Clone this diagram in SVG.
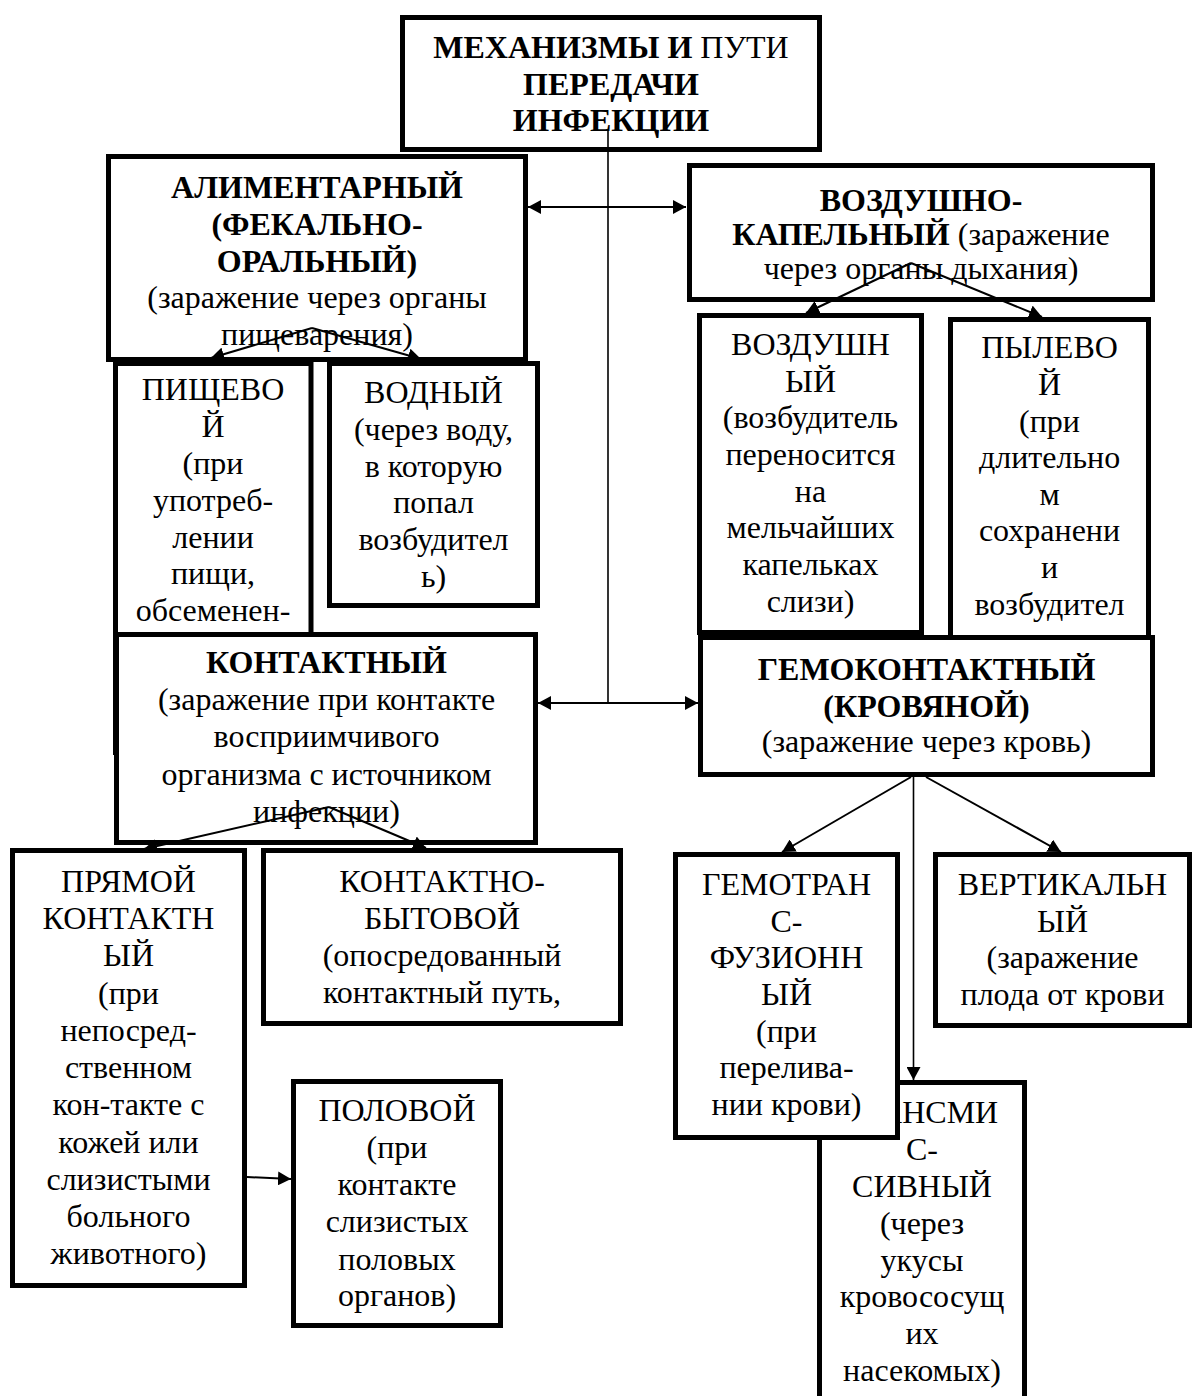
<svg xmlns="http://www.w3.org/2000/svg" width="1194" height="1396" viewBox="0 0 1194 1396">
<style>
.box{fill:#fff;stroke:#000;stroke-width:5}
.t{font-family:"Liberation Serif","Times New Roman",serif;font-size:32px;text-anchor:middle;fill:#000}
.b{font-weight:bold}
.c{stroke:#000;stroke-width:2;fill:none}
.thin{stroke:#000;stroke-width:1.6;fill:none}
</style>
<defs>
<marker id="ah" markerUnits="userSpaceOnUse" markerWidth="14" markerHeight="14" refX="13" refY="7" orient="auto-start-reverse">
<path d="M0,0 L13,7 L0,14 z" fill="#000"/>
</marker>
</defs>
<rect width="1194" height="1396" fill="#fff"/>

<g id="title">
<rect class="box" x="402.5" y="17.5" width="417" height="132"/>
<text class="t"><tspan x="611" y="58"><tspan class="b">МЕХАНИЗМЫ И </tspan>ПУТИ</tspan><tspan class="b" x="611" y="95">ПЕРЕДАЧИ</tspan><tspan class="b" x="611" y="131">ИНФЕКЦИИ</tspan></text>
</g>

<g id="alimentary">
<rect class="box" x="108.5" y="156.5" width="417" height="203"/>
<text class="t"><tspan class="b" x="317" y="198">АЛИМЕНТАРНЫЙ</tspan><tspan class="b" x="317" y="235">(ФЕКАЛЬНО-</tspan><tspan class="b" x="317" y="272">ОРАЛЬНЫЙ)</tspan><tspan x="317" y="308">(заражение через органы</tspan><tspan x="317" y="345">пищеварения)</tspan></text>
</g>

<g id="airdrop">
<rect class="box" x="689.5" y="165.5" width="463" height="134"/>
<text class="t"><tspan class="b" x="921" y="211">ВОЗДУШНО-</tspan><tspan x="921" y="245"><tspan class="b">КАПЕЛЬНЫЙ</tspan> (заражение</tspan><tspan x="921" y="279">через органы дыхания)</tspan></text>
</g>

<g id="food">
<rect class="box" x="115.5" y="363.5" width="195.5" height="389"/>
<text class="t"><tspan x="213" y="400">ПИЩЕВО</tspan><tspan x="213" y="437">Й</tspan><tspan x="213" y="474">(при</tspan><tspan x="213" y="511">употреб-</tspan><tspan x="213" y="548">лении</tspan><tspan x="213" y="584">пищи,</tspan><tspan x="213" y="621">обсеменен-</tspan></text>
</g>

<g id="water">
<rect class="box" x="329.5" y="363.5" width="208" height="242"/>
<text class="t"><tspan x="433.5" y="403">ВОДНЫЙ</tspan><tspan x="433.5" y="440">(через воду,</tspan><tspan x="433.5" y="477">в которую</tspan><tspan x="433.5" y="513">попал</tspan><tspan x="433.5" y="550">возбудител</tspan><tspan x="433.5" y="587">ь)</tspan></text>
</g>

<g id="air">
<rect class="box" x="699.5" y="315.5" width="222" height="317"/>
<text class="t"><tspan x="810.5" y="355">ВОЗДУШН</tspan><tspan x="810.5" y="392">ЫЙ</tspan><tspan x="810.5" y="428">(возбудитель</tspan><tspan x="810.5" y="465">переносится</tspan><tspan x="810.5" y="502">на</tspan><tspan x="810.5" y="538">мельчайших</tspan><tspan x="810.5" y="575">капельках</tspan><tspan x="810.5" y="612">слизи)</tspan></text>
</g>

<g id="dust">
<rect class="box" x="950.5" y="319.5" width="198" height="330"/>
<text class="t"><tspan x="1049.5" y="358">ПЫЛЕВО</tspan><tspan x="1049.5" y="395">Й</tspan><tspan x="1049.5" y="432">(при</tspan><tspan x="1049.5" y="468">длительно</tspan><tspan x="1049.5" y="505">м</tspan><tspan x="1049.5" y="541">сохранени</tspan><tspan x="1049.5" y="578">и</tspan><tspan x="1049.5" y="615">возбудител</tspan></text>
</g>

<g id="contact">
<rect class="box" x="116.5" y="634.5" width="419" height="208"/>
<text class="t"><tspan class="b" x="326.5" y="673">КОНТАКТНЫЙ</tspan><tspan x="326.5" y="710">(заражение при контакте</tspan><tspan x="326.5" y="747">восприимчивого</tspan><tspan x="326.5" y="785">организма с источником</tspan><tspan x="326.5" y="822">инфекции)</tspan></text>
</g>

<g id="hemo">
<rect class="box" x="700.5" y="637.5" width="452" height="137"/>
<text class="t"><tspan class="b" x="926.5" y="680">ГЕМОКОНТАКТНЫЙ</tspan><tspan class="b" x="926.5" y="717">(КРОВЯНОЙ)</tspan><tspan x="926.5" y="752">(заражение через кровь)</tspan></text>
</g>

<g id="direct">
<rect class="box" x="12.5" y="850.5" width="232" height="435"/>
<text class="t"><tspan x="128.5" y="892">ПРЯМОЙ</tspan><tspan x="128.5" y="929">КОНТАКТН</tspan><tspan x="128.5" y="966">ЫЙ</tspan><tspan x="128.5" y="1004">(при</tspan><tspan x="128.5" y="1041">непосред-</tspan><tspan x="128.5" y="1078">ственном</tspan><tspan x="128.5" y="1115">кон-такте с</tspan><tspan x="128.5" y="1153">кожей или</tspan><tspan x="128.5" y="1190">слизистыми</tspan><tspan x="128.5" y="1227">больного</tspan><tspan x="128.5" y="1264">животного)</tspan></text>
</g>

<g id="household">
<rect class="box" x="263.5" y="850.5" width="357" height="173"/>
<text class="t"><tspan x="442" y="892">КОНТАКТНО-</tspan><tspan x="442" y="929">БЫТОВОЙ</tspan><tspan x="442" y="966">(опосредованный</tspan><tspan x="442" y="1003">контактный путь,</tspan></text>
</g>

<g id="sexual">
<rect class="box" x="293.5" y="1081.5" width="207" height="244"/>
<text class="t"><tspan x="397" y="1121">ПОЛОВОЙ</tspan><tspan x="397" y="1158">(при</tspan><tspan x="397" y="1195">контакте</tspan><tspan x="397" y="1232">слизистых</tspan><tspan x="397" y="1270">половых</tspan><tspan x="397" y="1306">органов)</tspan></text>
</g>

<g id="transmissive">
<rect class="box" x="819.5" y="1082.5" width="205" height="340"/>
<text class="t"><tspan x="922" y="1123">ТРАНСМИ</tspan><tspan x="922" y="1160">С-</tspan><tspan x="922" y="1197">СИВНЫЙ</tspan><tspan x="922" y="1234">(через</tspan><tspan x="922" y="1271">укусы</tspan><tspan x="922" y="1307">кровососущ</tspan><tspan x="922" y="1344">их</tspan><tspan x="922" y="1381">насекомых)</tspan></text>
</g>

<g id="transfusion">
<rect class="box" x="675.5" y="854.5" width="222" height="283"/>
<text class="t"><tspan x="786.5" y="895">ГЕМОТРАН</tspan><tspan x="786.5" y="932">С-</tspan><tspan x="786.5" y="968">ФУЗИОНН</tspan><tspan x="786.5" y="1005">ЫЙ</tspan><tspan x="786.5" y="1042">(при</tspan><tspan x="786.5" y="1078">перелива-</tspan><tspan x="786.5" y="1115">нии крови)</tspan></text>
</g>

<g id="vertical">
<rect class="box" x="935.5" y="854.5" width="254" height="171"/>
<text class="t"><tspan x="1062.5" y="895">ВЕРТИКАЛЬН</tspan><tspan x="1062.5" y="932">ЫЙ</tspan><tspan x="1062.5" y="968">(заражение</tspan><tspan x="1062.5" y="1005">плода от крови</tspan></text>
</g>

<g id="connectors">
<path class="thin" d="M608,131 V703"/>
<path class="c" d="M528,207 H686" marker-start="url(#ah)" marker-end="url(#ah)"/>
<path class="c" d="M538,703 H698" marker-start="url(#ah)" marker-end="url(#ah)"/>
<path class="c" d="M312,328 L211,358" marker-end="url(#ah)"/>
<path class="c" d="M312,328 L421,359" marker-end="url(#ah)"/>
<path class="c" d="M911,263 L806,313" marker-end="url(#ah)"/>
<path class="c" d="M911,263 L1042,317" marker-end="url(#ah)"/>
<path class="c" d="M329,807 L144,849" marker-end="url(#ah)"/>
<path class="c" d="M329,807 L426,848" marker-end="url(#ah)"/>
<path class="c" d="M911,777 L782,852" marker-end="url(#ah)"/>
<path class="c" d="M926,777 L1061,852" marker-end="url(#ah)"/>
<path class="thin" d="M913.5,777 V1080" marker-end="url(#ah)"/>
<path class="c" d="M247,1177 L291,1179" marker-end="url(#ah)"/>
</g>
</svg>
